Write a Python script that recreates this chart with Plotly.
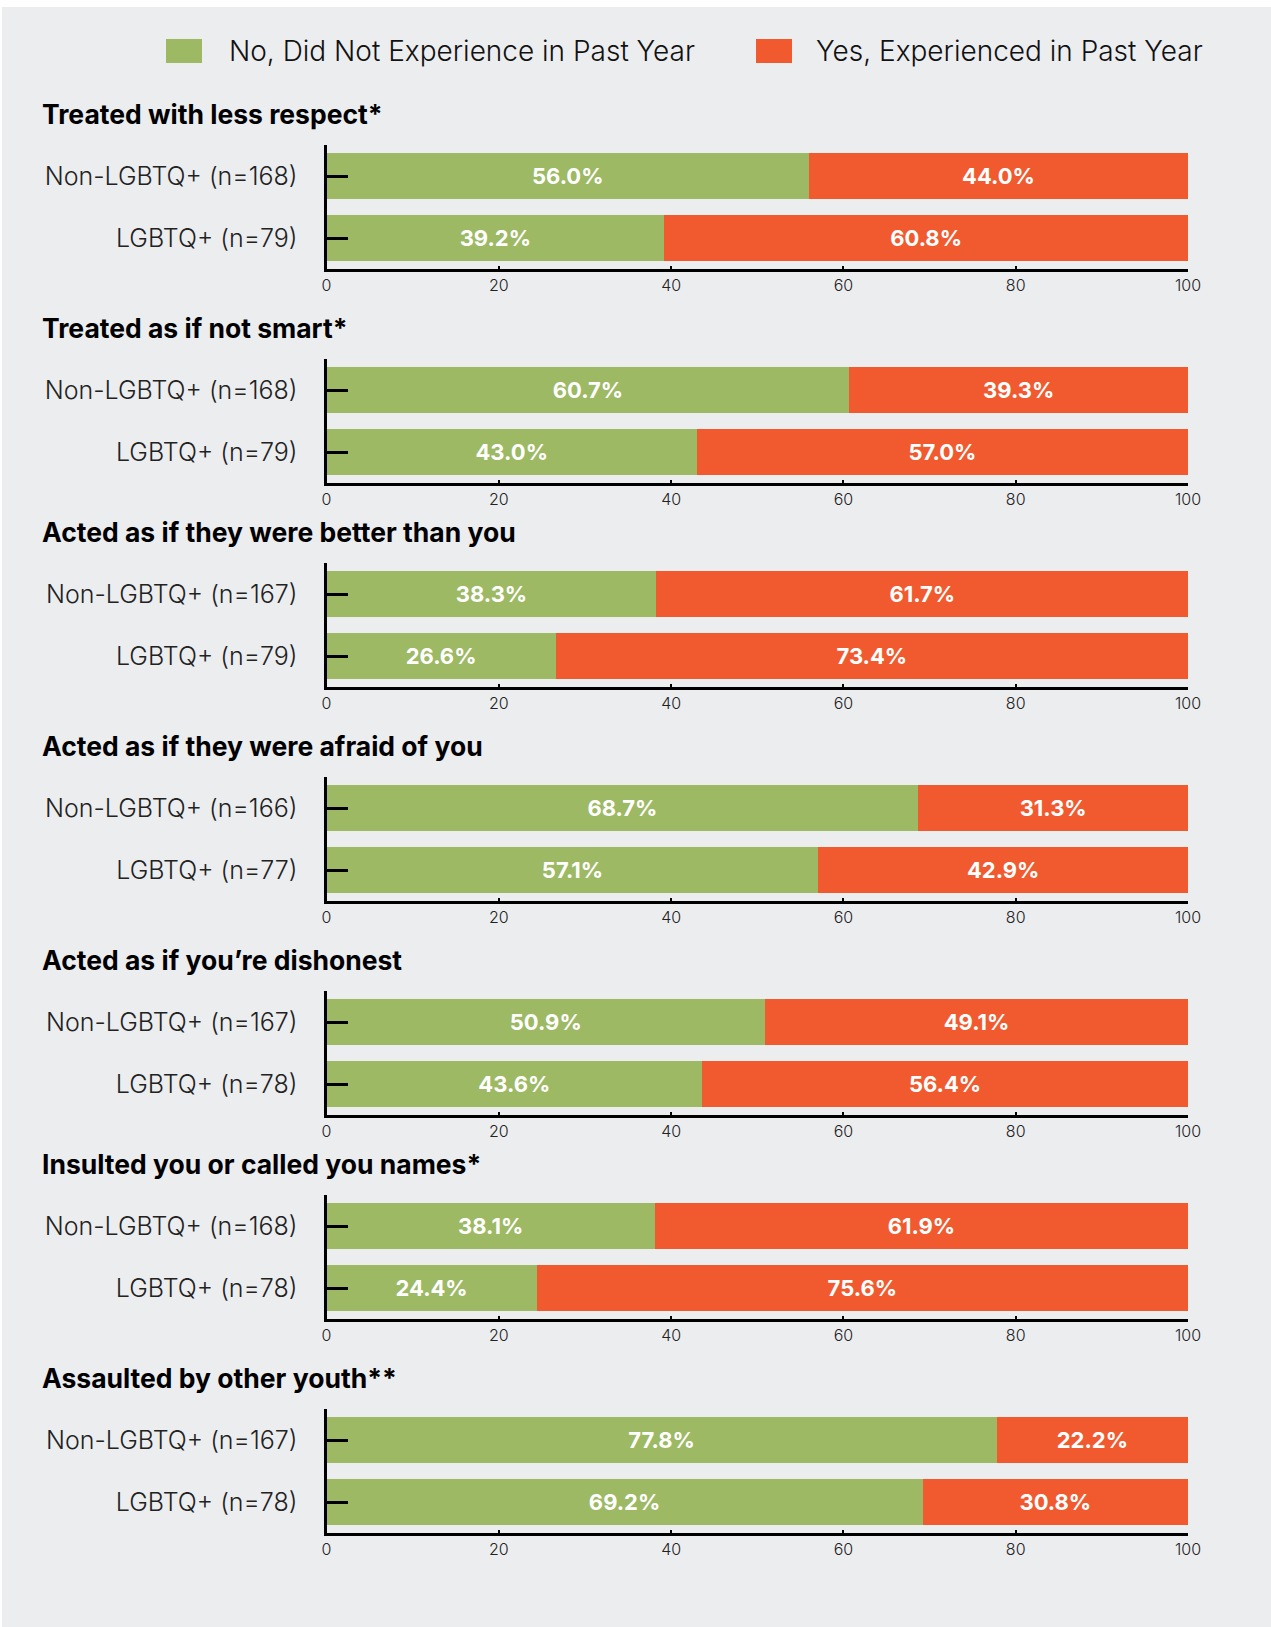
import plotly.graph_objects as go
from plotly.subplots import make_subplots

# data -----------------------------------------------------------------------
topics = [
    "Treated with less respect*",
    "Treated as if not smart*",
    "Acted as if they were better than you",
    "Acted as if they were afraid of you",
    "Acted as if you\u2019re dishonest",
    "Insulted you or called you names*",
    "Assaulted by other youth**",
]
n_non_lgbtq = [168, 168, 167, 166, 167, 168, 167]
n_lgbtq = [79, 79, 79, 77, 78, 78, 78]

no_non_lgbtq = [56.0, 60.7, 38.3, 68.7, 50.9, 38.1, 77.8]
yes_non_lgbtq = [44.0, 39.3, 61.7, 31.3, 49.1, 61.9, 22.2]
no_lgbtq = [39.2, 43.0, 26.6, 57.1, 43.6, 24.4, 69.2]
yes_lgbtq = [60.8, 57.0, 73.4, 42.9, 56.4, 75.6, 30.8]

series_names = ["No, Did Not Experience in Past Year", "Yes, Experienced in Past Year"]
x_ticks = [0, 20, 40, 60, 80, 100]

# style ----------------------------------------------------------------------
W, H = 1271, 1627
GREEN = "#9DB964"
ORANGE = "#F15A2E"
BG = "#ECEDEF"
FONT = "Inter"
panel_bottoms = [269, 483, 687, 901, 1115, 1319, 1533]  # px from top
panel_h = 124
x_left, x_right = 326.5, 1188

fig = make_subplots(rows=len(topics), cols=1)

for i, topic in enumerate(topics):
    row = i + 1
    cats = ["Non-LGBTQ+ (n=%d)" % n_non_lgbtq[i], "LGBTQ+ (n=%d)" % n_lgbtq[i]]
    no_vals = [no_non_lgbtq[i], no_lgbtq[i]]
    yes_vals = [yes_non_lgbtq[i], yes_lgbtq[i]]
    for name, vals, col in [(series_names[0], no_vals, GREEN), (series_names[1], yes_vals, ORANGE)]:
        fig.add_trace(go.Bar(
            y=cats, x=vals, orientation="h", name=name,
            marker=dict(color=col, line=dict(width=0)),
            text=["%.1f%%" % v for v in vals],
            textposition="inside", insidetextanchor="middle",
            textangle=0, constraintext="none",
            textfont=dict(family=FONT, size=22, color="white", weight="bold"),
            showlegend=False, hoverinfo="skip",
        ), row=row, col=1)

    b = panel_bottoms[i]
    t = b - panel_h
    sfx = "" if row == 1 else str(row)
    fig.layout["yaxis" + sfx].update(
        domain=[1 - b / H, 1 - t / H],
        range=[1.5, -0.5], type="category", automargin=False,
        showline=True, linecolor="black", linewidth=3,
        ticks="inside", ticklen=21, tickwidth=3, tickcolor="black",
        ticklabelstandoff=21,
        tickfont=dict(family=FONT, size=25, color="#222", weight=300),
        showgrid=False, zeroline=False, layer="above traces",
    )
    fig.layout["xaxis" + sfx].update(
        domain=[x_left / W, x_right / W],
        range=[0, 100], tickvals=x_ticks, automargin=False,
        showline=True, linecolor="black", linewidth=3,
        ticks="inside", ticklen=3, tickwidth=2, tickcolor="black",
        tickfont=dict(family=FONT, size=16, color="#222", weight=300),
        showgrid=False, zeroline=False,
    )
    fig.add_annotation(
        text="<b>%s</b>" % topic, xref="paper", yref="paper",
        x=40 / W, y=1 - (t - 31) / H, xanchor="left", yanchor="middle",
        showarrow=False, font=dict(family=FONT, size=26.5, color="black"),
    )

# legend drawn by hand so the swatches can be large
legend_items = [(series_names[0], GREEN, 166, 202, 227), (series_names[1], ORANGE, 756, 792, 814)]
for name, col, x0, x1, tx in legend_items:
    fig.add_shape(type="rect", xref="paper", yref="paper",
                  x0=x0 / W, x1=x1 / W, y0=1 - 63 / H, y1=1 - 39 / H,
                  fillcolor=col, line=dict(width=0), layer="above")
    fig.add_annotation(text=name, xref="paper", yref="paper",
                       x=tx / W, y=1 - 51 / H, xanchor="left", yanchor="middle",
                       showarrow=False, font=dict(family=FONT, size=28, color="#111", weight=300))

# grey panel with thin white border at top / left
fig.add_shape(type="rect", xref="paper", yref="paper",
              x0=2 / W, x1=1, y0=0, y1=1 - 7 / H,
              fillcolor=BG, line=dict(width=0), layer="below")

fig.update_layout(
    width=W, height=H, autosize=False,
    margin=dict(l=0, r=0, t=0, b=0, pad=0, autoexpand=False),
    paper_bgcolor="white", plot_bgcolor="rgba(0,0,0,0)",
    barmode="stack", bargap=0.26,
    showlegend=False,
)

# fixed size, no modebar, and no default page margin
fig.write_html(
    "out.html",
    config={"responsive": False, "displayModeBar": False},
    post_script="document.body.style.margin='0';document.body.style.overflow='hidden';",
)
